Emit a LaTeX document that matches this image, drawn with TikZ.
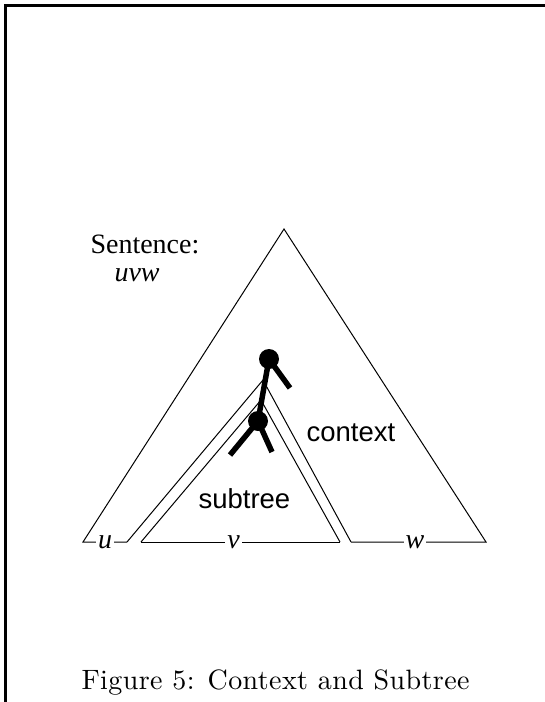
\documentclass[tikz,border=0pt]{standalone}
\usepackage{fontspec}
\usepackage{tikz}
\usetikzlibrary{positioning, calc}
\newfontfamily\timesrm{Liberation Serif}
\newfontfamily\helvsf{Liberation Sans}
\newfontfamily\capfont{lmroman10-regular}[Extension=.otf, LetterSpace=1.5]

\begin{document}
\begin{tikzpicture}[x=1pt, y=-1pt,
    thinline/.style={line width=1pt, line join=miter},
    treeline/.style={line width=5.5pt},
    treedot/.style={circle, fill=black, inner sep=0pt, minimum size=20pt},
    leaflbl/.style={fill=white, inner sep=2pt, font=\timesrm\itshape\fontsize{28}{30}\selectfont}]
  \useasboundingbox (0,0) rectangle (545,702);
  % frame of the page
  \draw[line width=3pt] (5,702) -- (5,5) -- (545,5);

  % corners of the sentence tree
  \coordinate (top) at (284,229);
  \coordinate (botl) at (83,542);
  \coordinate (botr) at (486,542);
  % notch cut out for the context
  \coordinate (notchl) at (127,542);
  \coordinate (notchtop) at (263,380);
  \coordinate (notchr) at (351,542);
  % subtree
  \coordinate (subl) at (141,542);
  \coordinate (subtop) at (261,400);
  \coordinate (subr) at (340,542);

  \draw[thinline] (notchl) -- (notchtop) -- (notchr);
  \draw[thinline] (subl) -- (subtop) -- (subr);
  \draw[thinline] (notchl) -- node[leaflbl] (u) {u} (botl) -- (top) -- (botr)
      -- node[leaflbl, pos=0.526] (w) {w} (notchr);
  \draw[thinline] (subl) -- node[leaflbl, pos=0.465] (v) {v} (subr);

  % labels
  \node[anchor=base west, font=\timesrm\fontsize{28}{30}\selectfont] (sent) at (87,253) {Sentence:};
  \node[anchor=base west, font=\timesrm\itshape\fontsize{28}{30}\selectfont] (word) at (111,281) {uvw};
  \node[anchor=base west, font=\helvsf\fontsize{27.5}{30}\selectfont] (ctx) at (303,441) {context};
  \node[anchor=base west, font=\helvsf\fontsize{27.5}{30}\selectfont] (sub) at (195,508) {subtree};

  % the two tree nodes and their branches
  \node[treedot] (p) at (269,359) {};
  \node[treedot] (q) at (258,421) {};
  \coordinate (pright) at (290,388);
  \coordinate (qleft) at (230,455);
  \coordinate (qright) at (272,452);
  \draw[treeline] (p.center) -- (q.center);
  \draw[treeline] (p.center) -- (pright);
  \draw[treeline] (q.center) -- (qleft);
  \draw[treeline] (q.center) -- (qright);

  % caption
  \node[anchor=base west, font=\capfont\fontsize{28}{30}\selectfont] (cap) at (78,689) {Figure 5: Context and Subtree};
\end{tikzpicture}
\end{document}
